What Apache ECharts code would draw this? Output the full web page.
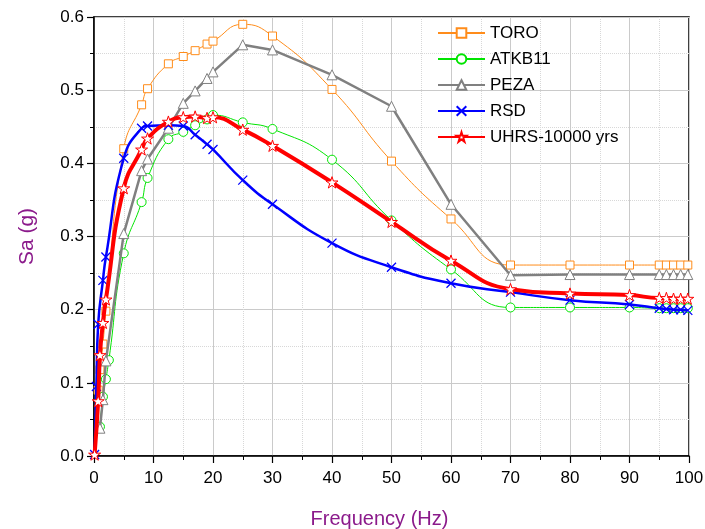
<!DOCTYPE html>
<html>
<head>
<meta charset="utf-8">
<script src="https://cdn.jsdelivr.net/npm/echarts@6/dist/echarts.min.js"></script>
<style>html,body{margin:0;padding:0;background:#fff}#c{width:705px;height:529px}</style>
</head>
<body>
<div id="c"></div>
<script>
const freq  = [0.1, 0.4, 0.7, 1, 1.5, 2, 2.5, 5, 8, 9, 12.5, 15, 17, 19, 20, 25, 30, 40, 50, 60, 70, 80, 90, 95, 96.2, 97.4, 98.6, 99.8];
const toro  = [null, null, 0.09, 0.118, 0.153, 0.198, null, 0.42, 0.48, 0.502, 0.536, 0.546, 0.554, 0.563, 0.567, 0.590, 0.574, 0.501, 0.403, 0.324, 0.261, 0.261, 0.261, 0.261, 0.261, 0.261, 0.261, 0.261];
const atkb  = [null, null, null, 0.04, 0.081, 0.105, 0.131, 0.277, 0.347, 0.38, 0.433, 0.443, 0.452, 0.46, 0.466, 0.456, 0.447, 0.405, 0.322, 0.255, 0.203, 0.203, 0.203, 0.202, 0.202, 0.202, 0.202, 0.202];
const peza  = [null, null, null, 0.038, 0.077, 0.13, null, 0.304, 0.39, 0.406, 0.448, 0.482, 0.499, 0.516, 0.525, 0.562, 0.555, 0.521, 0.478, 0.344, 0.247, 0.248, 0.248, 0.248, 0.248, 0.248, 0.248, 0.248];
const rsd   = [0.002, 0.095, 0.18, null, 0.24, 0.272, null, 0.407, 0.448, 0.451, 0.452, 0.451, 0.439, 0.426, 0.419, 0.377, 0.344, 0.291, 0.258, 0.236, 0.224, 0.213, 0.207, 0.202, 0.201, 0.2, 0.2, 0.199];
const uhrs  = [0.002, null, 0.075, 0.138, 0.182, 0.214, null, 0.366, 0.419, 0.434, 0.457, 0.463, 0.464, 0.462, 0.463, 0.446, 0.424, 0.374, 0.320, 0.267, 0.228, 0.222, 0.220, 0.216, 0.216, 0.215, 0.215, 0.215];
const yTicks = [0, 0.1, 0.2, 0.3, 0.4, 0.5, 0.6];

function pairs(vals){ return freq.map((f,i)=>[f, vals[i]]); }
const FONT = "'Liberation Sans', Arial, sans-serif";
const STAR = 'path://M50,0 L61.2,34.5 L97.6,34.5 L68.2,55.9 L79.4,90.5 L50,69.1 L20.6,90.5 L31.8,55.9 L2.4,34.5 L38.8,34.5 Z';
const CROSS = 'path://M0,0 L10,10 M10,0 L0,10';

function mk(name, vals, color, width, symbol, size, smooth, z){
  return {
    name, type:'line', data: pairs(vals), connectNulls:true, smooth: smooth, z: z,
    symbol, symbolSize: size, symbolKeepAspect:true, showAllSymbol:true,
    lineStyle:{color, width},
    itemStyle:{color: symbol===CROSS ? color : '#fff', borderColor: color, borderWidth: symbol===CROSS ? 1.3 : 1},
    emphasis:{disabled:true}, animation:false
  };
}

const chart = echarts.init(document.getElementById('c'));
chart.setOption({
  animation:false,
  grid:{left:94, right:16, top:17, bottom:73, outerBoundsMode:'none', containLabel:false,
        show:true, borderColor:'#000', borderWidth:1.5, backgroundColor:'transparent'},
  legend:{
    orient:'vertical', left:437, top:23, padding:0, itemWidth:47, itemHeight:12, itemGap:6,
    textStyle:{fontFamily:FONT, fontSize:17, color:'#000', lineHeight:20},
    data:['TORO','ATKB11','PEZA','RSD','UHRS-10000 yrs']
  },
  xAxis:{
    type:'value', min:0, max:100, interval:10,
    name:'Frequency (Hz)', nameLocation:'middle', nameGap:53,
    nameTextStyle:{fontFamily:FONT, fontSize:20, color:'#8B1A8B', padding:[0,24,0,0]},
    axisLine:{show:true, lineStyle:{color:'#000', width:1.5}},
    axisTick:{show:true, length:7, lineStyle:{color:'#000', width:1.2}},
    minorTick:{show:true, splitNumber:2, length:4, lineStyle:{color:'#000', width:1}},
    axisLabel:{fontFamily:FONT, fontSize:17, color:'#000', margin:14},
    splitLine:{show:true, lineStyle:{color:'#cacaca', width:1}},
    minorSplitLine:{show:true, lineStyle:{color:'#d8d8d8', width:1, type:'dotted'}}
  },
  yAxis:{
    type:'value', min:0, max:0.6, interval:0.1,
    name:'Sa (g)', nameLocation:'middle', nameGap:56,
    nameTextStyle:{fontFamily:FONT, fontSize:21, color:'#8B1A8B'},
    axisLine:{show:true, lineStyle:{color:'#000', width:1.5}},
    axisTick:{show:true, length:7, lineStyle:{color:'#000', width:1.2}},
    minorTick:{show:true, splitNumber:2, length:4, lineStyle:{color:'#000', width:1}},
    axisLabel:{fontFamily:FONT, fontSize:17, color:'#000', margin:10, formatter:v=>{
      const t = yTicks.find(k=>Math.abs(k-v)<1e-9); return (t===undefined? v : t).toFixed(1);}},
    splitLine:{show:true, lineStyle:{color:'#cacaca', width:1}},
    minorSplitLine:{show:true, lineStyle:{color:'#d8d8d8', width:1, type:'dotted'}}
  },
  series:[
    mk('TORO', toro, '#FF8C1A', 1, 'rect', 8, true, 2),
    mk('ATKB11', atkb, '#00E400', 1, 'circle', 9, true, 3),
    mk('PEZA', peza, '#808080', 2.5, 'triangle', 10, false, 4),
    mk('RSD', rsd, '#0000FF', 2.5, CROSS, 9, true, 5),
    mk('UHRS-10000 yrs', uhrs, '#FF0000', 4, STAR, 12, true, 6)
  ]
});
</script>
</body>
</html>
